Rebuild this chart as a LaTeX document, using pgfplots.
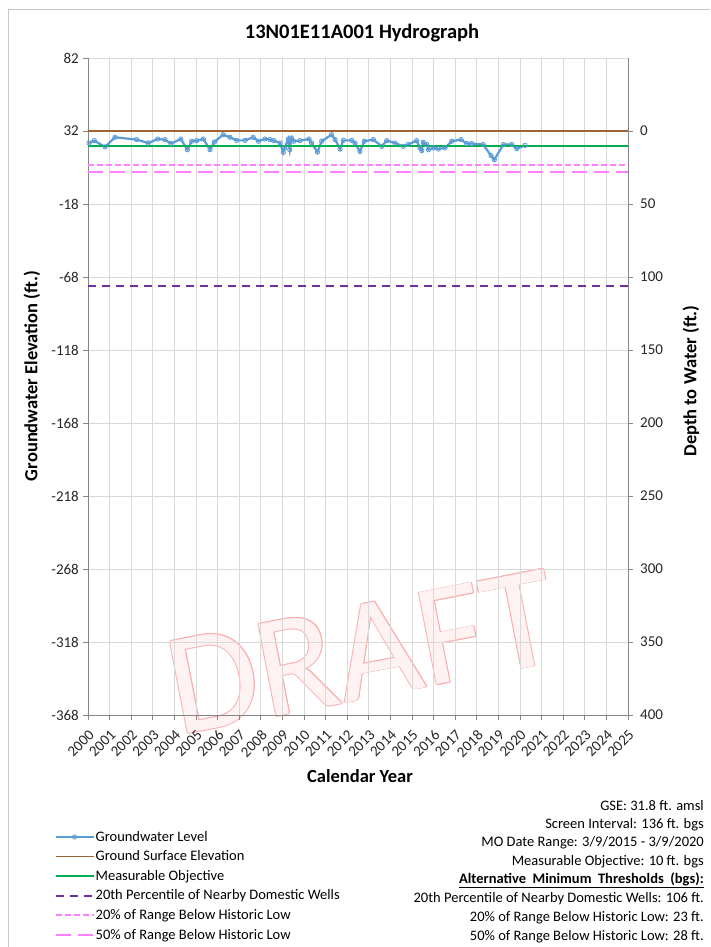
\documentclass[border=0pt]{standalone}
\usepackage{fontspec}
\setmainfont{Carlito}
\usepackage{pgfplots}
\pgfplotsset{compat=1.18}
\usetikzlibrary{calc}
\definecolor{gwblue}{RGB}{91,155,213}
\definecolor{gwfill}{RGB}{222,235,247}
\definecolor{gsebrown}{RGB}{160,100,50}
\definecolor{mogreen}{RGB}{0,176,80}
\definecolor{mtpurple}{RGB}{112,48,160}
\definecolor{mtpink}{RGB}{255,128,255}
\definecolor{gridgray}{RGB}{217,217,217}
\definecolor{axgray}{RGB}{134,134,134}
\definecolor{bordergray}{RGB}{200,200,200}
\definecolor{draftfill}{RGB}{255,242,242}
\definecolor{draftstroke}{RGB}{250,175,175}
\pgfplotstableread{
year elev
2000.05 23.8
2000.29 25.4
2000.79 21.1
2001.25 27.7
2002.25 26.1
2002.79 23.8
2003.23 26.5
2003.56 26.1
2003.84 23.4
2004.30 26.5
2004.60 19.2
2004.80 25.0
2005.03 25.4
2005.34 26.5
2005.65 19.2
2005.85 24.5
2006.26 29.5
2006.57 27.7
2006.88 25.6
2007.27 25.6
2007.65 27.7
2007.89 25.0
2008.19 26.5
2008.43 26.1
2008.60 25.4
2008.89 23.8
2009.04 17.4
2009.10 20.4
2009.27 26.5
2009.34 19.2
2009.42 27.2
2009.52 25.0
2009.81 25.4
2010.23 26.5
2010.35 23.8
2010.62 17.6
2010.82 25.0
2011.28 29.5
2011.44 26.1
2011.67 19.7
2011.82 25.6
2012.21 25.6
2012.36 23.8
2012.59 18.0
2012.79 25.0
2013.21 26.1
2013.60 21.5
2013.83 25.4
2014.21 23.8
2014.60 21.5
2014.82 22.7
2015.21 25.4
2015.37 20.4
2015.45 18.6
2015.52 24.3
2015.68 22.7
2015.76 19.2
2015.99 20.4
2016.22 19.7
2016.53 20.4
2016.84 25.0
2017.27 26.1
2017.53 23.4
2017.76 23.4
2018.30 22.7
2018.66 15.1
2018.81 12.4
2019.23 22.7
2019.62 22.7
2019.85 19.9
2020.23 22.2
}\gwdata
\begin{document}
\begin{tikzpicture}[x=1pt,y=1pt]
\useasboundingbox (0,0) rectangle (710,-947);
\draw[bordergray] (8,-947) -- (8,-9) -- (710,-9);
\foreach \a in {0,45,...,315}{
  \node[rotate=11, text=draftstroke] at ($(362,-652)+(\a:0.8)$) {\fontsize{146}{146}\selectfont DRAFT};
}
\node[rotate=11, text=draftfill] at (362,-652) {\fontsize{146}{146}\selectfont DRAFT};
\begin{axis}[
  at={(88pt,-715pt)}, anchor=south west,
  scale only axis, width=540pt, height=657pt,
  xmin=2000, xmax=2025, ymin=-368, ymax=82,
  xtick={2000,...,2025}, ytick={-368,-318,...,82},
  axis lines=left, axis line style={-, draw=axgray, line width=0.8pt},
  tick align=outside, major tick length=5pt,
  tick style={draw=axgray, line width=0.8pt},
  grid=major, major grid style={draw=gridgray, line width=0.8pt},
  /pgf/number format/assume math mode=true,
  /pgf/number format/1000 sep={},
  tick label style={font=\fontsize{15}{17}\selectfont, text=black!85},
  xticklabel style={yshift=-9pt, rotate=45, anchor=north east, inner sep=0pt},
  yticklabel style={inner sep=2pt, xshift=-2pt},
  legend cell align=left,
  legend style={at={(-0.0625,-0.175)}, anchor=north west, draw=none, fill=none,
    font=\fontsize{14.5}{16}\selectfont, row sep=6pt, inner sep=0pt,
    nodes={inner sep=1pt}},
  legend image code/.code={\draw[mark repeat=2,mark phase=2,#1] plot coordinates {(0pt,0pt) (19pt,0pt) (38pt,0pt)};},
]
\addplot[gwblue, line width=2.2pt, mark=o, mark size=2.2pt, mark options={line width=0.8pt, fill=gwfill, solid}] table[x=year,y=elev]{\gwdata};
\addlegendentry{Groundwater Level}
\addplot[gsebrown, line width=1.6pt] coordinates {(2000,31.8) (2025,31.8)};
\addlegendentry{Ground Surface Elevation}
\addplot[mogreen, line width=1.6pt] coordinates {(2000,21.8) (2025,21.8)};
\addlegendentry{Measurable Objective}
\addplot[mtpurple, line width=1.8pt, dash pattern=on 8pt off 6pt] coordinates {(2000,-74.2) (2025,-74.2)};
\addlegendentry{20th Percentile of Nearby Domestic Wells}
\addplot[mtpink, line width=1.5pt, dash pattern=on 6pt off 3pt] coordinates {(2000,8.8) (2025,8.8)};
\addlegendentry{20\% of Range Below Historic Low}
\addplot[mtpink, line width=1.5pt, dash pattern=on 15pt off 7pt] coordinates {(2000,3.8) (2025,3.8)};
\addlegendentry{50\% of Range Below Historic Low}
\end{axis}
\begin{axis}[
  at={(88pt,-715pt)}, anchor=south west,
  scale only axis, width=540pt, height=657pt,
  xmin=2000, xmax=2025, ymin=-50, ymax=400, y dir=reverse,
  axis x line=none, axis y line*=right,
  axis line style={-, draw=axgray, line width=0.8pt},
  ytick={0,50,...,400},
  tick align=outside, major tick length=5pt,
  tick style={draw=axgray, line width=0.8pt},
  /pgf/number format/assume math mode=true,
  tick label style={font=\fontsize{15}{17}\selectfont, text=black!85},
  yticklabel style={inner sep=2pt, xshift=5pt},
]
\addplot[draw=none] coordinates {(2000,0)};
\end{axis}
\node[font=\fontsize{20.5}{24}\selectfont\bfseries] at (362,-33) {13N01E11A001 Hydrograph};
\node[font=\fontsize{18.5}{22}\selectfont\bfseries, rotate=90] at (32,-376) {Groundwater Elevation (ft.)};
\node[font=\fontsize{18.5}{22}\selectfont\bfseries, rotate=90] at (691,-381) {Depth to Water (ft.)};
\node[font=\fontsize{18.5}{22}\selectfont\bfseries] at (360,-776) {Calendar Year};
\begin{scope}[every node/.style={anchor=east, font=\fontsize{14.5}{16}\selectfont, inner sep=0pt}]
\node at (704,-806) {GSE: 31.8 ft. amsl};
\node at (704,-825) {Screen Interval: 136 ft. bgs};
\node at (704,-843) {MO Date Range: 3/9/2015 - 3/9/2020};
\node at (704,-862) {Measurable Objective: 10 ft. bgs};
\node at (704,-880) {\underline{\textbf{Alternative\hspace{0.45em}Minimum\hspace{0.45em}Thresholds\hspace{0.45em}(bgs):}}};
\node at (704,-899) {20th Percentile of Nearby Domestic Wells: 106 ft.};
\node at (704,-918) {20\% of Range Below Historic Low: 23 ft.};
\node at (704,-937) {50\% of Range Below Historic Low: 28 ft.};
\end{scope}
\end{tikzpicture}
\end{document}
